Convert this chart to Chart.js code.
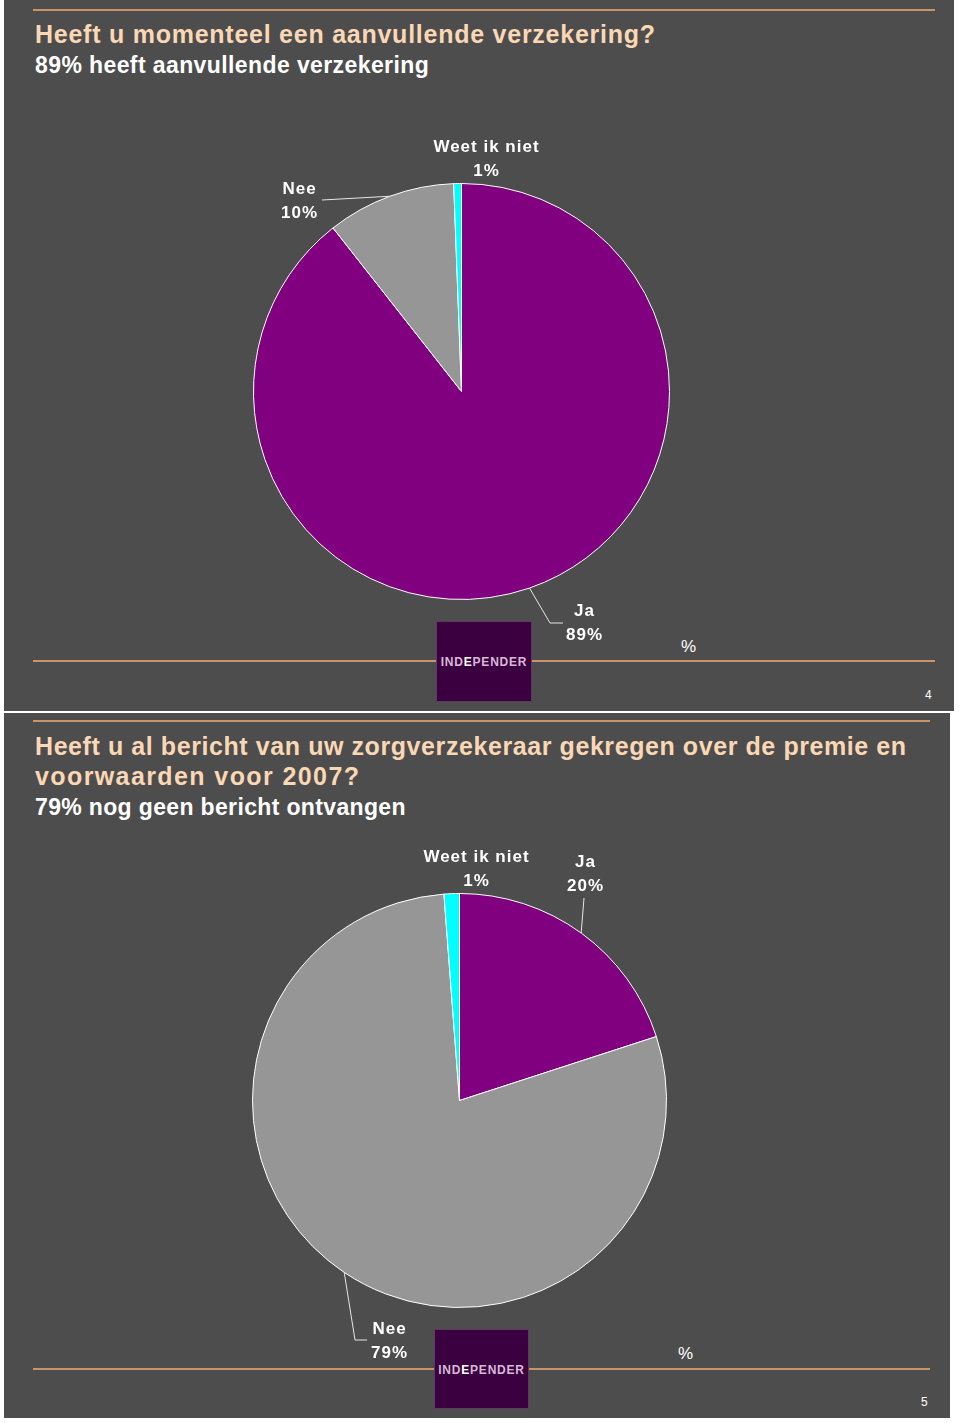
<!DOCTYPE html>
<html>
<head>
<meta charset="utf-8">
<script src="https://cdn.jsdelivr.net/npm/chart.js@4/dist/chart.umd.min.js"></script>
<style>
  html, body { margin: 0; padding: 0; background: #ffffff; }
  body { width: 960px; height: 1423px; position: relative; overflow: hidden; font-family: "Liberation Sans", Arial, sans-serif; }
  .slide { position: absolute; background: #4d4d4d; }
  .rule { position: absolute; height: 2px; background: #c8956a; }
  .title { position: absolute; left: 35px; color: #fad7b5; font-weight: bold; font-size: 25px; white-space: nowrap; }
  .sub { position: absolute; left: 35px; color: #ffffff; font-weight: bold; font-size: 23px; line-height: 1; letter-spacing: 0.4px; white-space: nowrap; }
  .lbl { position: absolute; color: #ffffff; font-weight: bold; font-size: 17px; line-height: 24px; letter-spacing: 1px; text-align: center; white-space: nowrap; transform: translateX(-50%); padding-left: 1px; z-index: 5; }
  .logo { position: absolute; background: #3b0040; border: 1px solid #5e3b5e; box-sizing: border-box; z-index: 3; }
  .logo span.t { position: absolute; left: 0; right: 0; text-align: center; font-weight: bold; font-size: 12px; letter-spacing: 0.8px; color: #d7b9d7; line-height: 1; white-space: nowrap; }
  .logo b { color: #ffffff; }
  .pct { position: absolute; color: #ffffff; font-size: 17px; line-height: 1; }
  .pg { position: absolute; color: #ffffff; font-size: 12px; line-height: 1; }
  canvas { position: absolute; z-index: 2; }
</style>
</head>
<body>
<script>
// ---------- DATA ----------
const chart1Categories = ['Ja', 'Nee', 'Weet ik niet'];
const chart1Values = [89.4, 10.0, 0.6];
const chart2Categories = ['Ja', 'Nee', 'Weet ik niet'];
const chart2Values = [20.0, 78.8, 1.2];
const chart1Title = 'Heeft u momenteel een aanvullende verzekering?';
const chart1Subtitle = '89% heeft aanvullende verzekering';
const chart2TitleLines = ['Heeft u al bericht van uw zorgverzekeraar gekregen over de premie en', 'voorwaarden voor 2007?'];
const chart2Subtitle = '79% nog geen bericht ontvangen';
</script>

<div class="slide" style="left:4px;top:0;width:950px;height:711px;"></div>
<div class="slide" style="left:4px;top:713px;width:946px;height:705px;"></div>

<div class="rule" style="left:33px;top:9px;width:902px;"></div>
<div class="rule" style="left:33px;top:660px;width:902px;"></div>
<div class="rule" style="left:33px;top:720px;width:897px;"></div>
<div class="rule" style="left:33px;top:1368px;width:897px;"></div>

<div id="t1" class="title" style="top:22px;line-height:1;letter-spacing:0.75px;"></div>
<div id="s1" class="sub" style="top:53.5px;"></div>
<div id="t2a" class="title" style="top:731px;line-height:30px;letter-spacing:0.58px;"></div>
<div id="t2b" class="title" style="top:761px;line-height:30px;letter-spacing:1.4px;"></div>
<div id="s2" class="sub" style="top:795.5px;letter-spacing:0.35px;"></div>

<div class="logo" style="left:436px;top:621px;width:96px;height:81px;"><span class="t" style="top:34px;">IND<b>E</b>PENDER</span></div>
<div class="logo" style="left:434px;top:1329px;width:95px;height:80px;"><span class="t" style="top:34px;">IND<b>E</b>PENDER</span></div>

<div class="pct" style="left:681px;top:638px;">%</div>
<div class="pct" style="left:678px;top:1345px;">%</div>
<div class="pg" style="left:925px;top:689px;">4</div>
<div class="pg" style="left:921px;top:1396px;">5</div>

<canvas id="c1" style="left:4px;top:0px;" width="950" height="711"></canvas>
<canvas id="c2" style="left:4px;top:713px;" width="946" height="705"></canvas>

<script>
document.getElementById('t1').textContent = chart1Title;
document.getElementById('s1').textContent = chart1Subtitle;
document.getElementById('t2a').textContent = chart2TitleLines[0];
document.getElementById('t2b').textContent = chart2TitleLines[1];
document.getElementById('s2').textContent = chart2Subtitle;

const sliceColors = ['#800080', '#969696', '#00ffff'];

// label positions (page coords: center x, top y) per category index
function addLabels(categories, values, positions) {
  positions.forEach((p, i) => {
    if (!p) return;
    const d = document.createElement('div');
    d.className = 'lbl';
    d.style.left = p[0] + 'px';
    d.style.top = p[1] + 'px';
    const a = document.createElement('div'); a.textContent = categories[i];
    const b = document.createElement('div'); b.textContent = Math.round(values[i]) + '%';
    d.appendChild(a); d.appendChild(b);
    document.body.appendChild(d);
  });
}
addLabels(chart1Categories, chart1Values, [[584, 599], [299, 177], [486, 135]]);
addLabels(chart2Categories, chart2Values, [[585, 850], [389, 1317], [476, 845]]);

const leaderPlugin = {
  id: 'leaders',
  afterDatasetsDraw(chart, args, opts) {
    const ctx = chart.ctx;
    const meta = chart.getDatasetMeta(0);
    const off = opts.offset || [0, 0];
    ctx.save();
    ctx.strokeStyle = '#e6e6e6';
    ctx.lineWidth = 1;
    (opts.lines || []).forEach(l => {
      const arc = meta.data[l.index];
      const mid = (arc.startAngle + arc.endAngle) / 2;
      const x0 = arc.x + Math.cos(mid) * arc.outerRadius;
      const y0 = arc.y + Math.sin(mid) * arc.outerRadius;
      ctx.beginPath();
      ctx.moveTo(x0, y0);
      l.points.forEach(pt => ctx.lineTo(pt[0] - off[0], pt[1] - off[1]));
      ctx.stroke();
    });
    ctx.restore();
  }
};

function makePie(id, categories, values, padding, lines, offset) {
  return new Chart(document.getElementById(id), {
    type: 'pie',
    data: {
      labels: categories,
      datasets: [{
        data: values,
        backgroundColor: sliceColors,
        borderColor: '#ffffff',
        borderWidth: 1,
        hoverOffset: 0
      }]
    },
    options: {
      responsive: false,
      animation: false,
      events: [],
      layout: { padding: padding },
      plugins: {
        legend: { display: false },
        tooltip: { enabled: false },
        leaders: { lines: lines, offset: offset }
      }
    },
    plugins: [leaderPlugin]
  });
}

makePie('c1', chart1Categories, chart1Values,
  { left: 249, top: 183, right: 950 - 249 - 417, bottom: 711 - 183 - 417 },
  [ { index: 1, points: [[322, 200]] },
    { index: 0, points: [[550, 623], [563, 623]] } ],
  [4, 0]);

makePie('c2', chart2Categories, chart2Values,
  { left: 248, top: 180, right: 946 - 248 - 415, bottom: 705 - 180 - 415 },
  [ { index: 0, points: [[584, 898]] },
    { index: 1, points: [[355, 1340], [367, 1340]] } ],
  [4, 713]);
</script>
</body>
</html>
